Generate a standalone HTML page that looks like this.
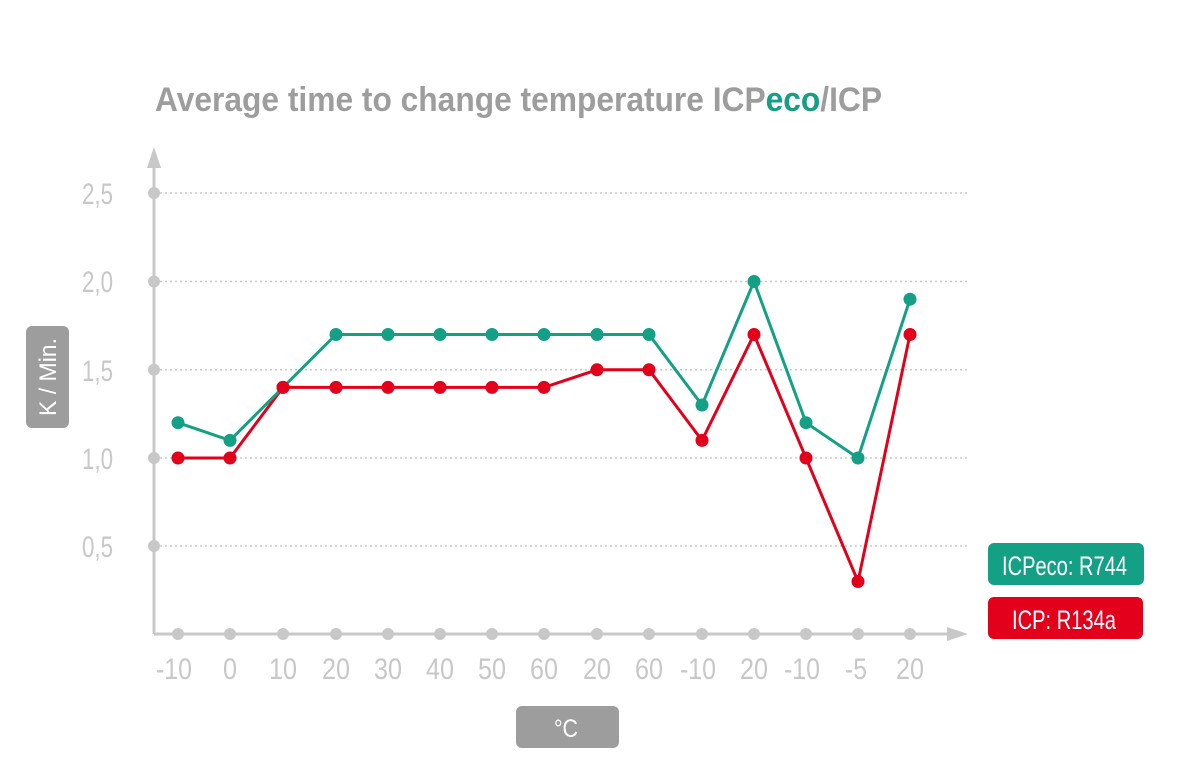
<!DOCTYPE html>
<html><head><meta charset="utf-8"><style>
html,body{margin:0;padding:0;background:#fff;}
svg{display:block;font-family:"Liberation Sans Narrow","Liberation Sans",sans-serif;}
</style></head><body>
<svg width="1200" height="780" viewBox="0 0 1200 780" xmlns="http://www.w3.org/2000/svg">
<text x="155" y="111" font-size="34" font-weight="bold" fill="#9d9d9d" textLength="727" lengthAdjust="spacingAndGlyphs">Average time to change temperature ICP<tspan fill="#13a085">eco</tspan>/ICP</text>
<g stroke="#c8c8c8" stroke-width="1.5" stroke-dasharray="2 3">
<line x1="160" y1="193" x2="968" y2="193"/><line x1="160" y1="281.5" x2="968" y2="281.5"/><line x1="160" y1="369.8" x2="968" y2="369.8"/><line x1="160" y1="458" x2="968" y2="458"/><line x1="160" y1="546" x2="968" y2="546"/>
</g>
<g stroke="#c8c8c8" stroke-width="3"><line x1="154" y1="165" x2="154" y2="634"/><line x1="154" y1="634" x2="950" y2="634"/></g>
<polygon points="154,147 147,168 161,168" fill="#c8c8c8"/>
<polygon points="968,634 947,627 947,641" fill="#c8c8c8"/>
<g fill="#c8c8c8">
<circle cx="154" cy="193" r="6"/><circle cx="154" cy="281.5" r="6"/><circle cx="154" cy="369.8" r="6"/><circle cx="154" cy="458" r="6"/><circle cx="154" cy="546" r="6"/>
<circle cx="178" cy="634" r="6"/><circle cx="230" cy="634" r="6"/><circle cx="283" cy="634" r="6"/><circle cx="336" cy="634" r="6"/><circle cx="388" cy="634" r="6"/><circle cx="440" cy="634" r="6"/><circle cx="492" cy="634" r="6"/><circle cx="544" cy="634" r="6"/><circle cx="597" cy="634" r="6"/><circle cx="649" cy="634" r="6"/><circle cx="702" cy="634" r="6"/><circle cx="754" cy="634" r="6"/><circle cx="806" cy="634" r="6"/><circle cx="858" cy="634" r="6"/><circle cx="910" cy="634" r="6"/>
</g>
<g fill="#c8c8c8" font-size="30" text-anchor="end">
<text x="113" y="204" textLength="31" lengthAdjust="spacingAndGlyphs">2,5</text><text x="113" y="292" textLength="31" lengthAdjust="spacingAndGlyphs">2,0</text><text x="113" y="381" textLength="31" lengthAdjust="spacingAndGlyphs">1,5</text><text x="113" y="469" textLength="31" lengthAdjust="spacingAndGlyphs">1,0</text><text x="113" y="557" textLength="31" lengthAdjust="spacingAndGlyphs">0,5</text>
</g>
<g fill="#c8c8c8" font-size="30" text-anchor="middle" lengthAdjust="spacingAndGlyphs">
<text x="174" y="679" textLength="36" lengthAdjust="spacingAndGlyphs">-10</text><text x="230" y="679" textLength="14" lengthAdjust="spacingAndGlyphs">0</text><text x="283" y="679" textLength="28" lengthAdjust="spacingAndGlyphs">10</text><text x="336" y="679" textLength="28" lengthAdjust="spacingAndGlyphs">20</text><text x="388" y="679" textLength="28" lengthAdjust="spacingAndGlyphs">30</text><text x="440" y="679" textLength="28" lengthAdjust="spacingAndGlyphs">40</text><text x="492" y="679" textLength="28" lengthAdjust="spacingAndGlyphs">50</text><text x="544" y="679" textLength="28" lengthAdjust="spacingAndGlyphs">60</text><text x="597" y="679" textLength="28" lengthAdjust="spacingAndGlyphs">20</text><text x="649" y="679" textLength="28" lengthAdjust="spacingAndGlyphs">60</text><text x="698" y="679" textLength="36" lengthAdjust="spacingAndGlyphs">-10</text><text x="754" y="679" textLength="28" lengthAdjust="spacingAndGlyphs">20</text><text x="802" y="679" textLength="36" lengthAdjust="spacingAndGlyphs">-10</text><text x="856" y="679" textLength="22" lengthAdjust="spacingAndGlyphs">-5</text><text x="910" y="679" textLength="28" lengthAdjust="spacingAndGlyphs">20</text>
</g>
<polyline fill="none" stroke="#e2001a" stroke-width="3" points="178,458 230,458 283,387.4 336,387.4 388,387.4 440,387.4 492,387.4 544,387.4 597,369.8 649,369.8 702,440.4 754,334.5 806,458 858,581.5 910,334.5"/>
<g fill="#e2001a"><circle cx="178" cy="458" r="6.5"/><circle cx="230" cy="458" r="6.5"/><circle cx="283" cy="387.4" r="6.5"/><circle cx="336" cy="387.4" r="6.5"/><circle cx="388" cy="387.4" r="6.5"/><circle cx="440" cy="387.4" r="6.5"/><circle cx="492" cy="387.4" r="6.5"/><circle cx="544" cy="387.4" r="6.5"/><circle cx="597" cy="369.8" r="6.5"/><circle cx="649" cy="369.8" r="6.5"/><circle cx="702" cy="440.4" r="6.5"/><circle cx="754" cy="334.5" r="6.5"/><circle cx="806" cy="458" r="6.5"/><circle cx="858" cy="581.5" r="6.5"/><circle cx="910" cy="334.5" r="6.5"/></g>
<polyline fill="none" stroke="#13a085" stroke-width="3" points="178,422.7 230,440.4 283,387.4 336,334.5 388,334.5 440,334.5 492,334.5 544,334.5 597,334.5 649,334.5 702,405 754,281.5 806,422.7 858,458 910,299.2"/>
<g fill="#13a085"><circle cx="178" cy="422.7" r="6.5"/><circle cx="230" cy="440.4" r="6.5"/><circle cx="336" cy="334.5" r="6.5"/><circle cx="388" cy="334.5" r="6.5"/><circle cx="440" cy="334.5" r="6.5"/><circle cx="492" cy="334.5" r="6.5"/><circle cx="544" cy="334.5" r="6.5"/><circle cx="597" cy="334.5" r="6.5"/><circle cx="649" cy="334.5" r="6.5"/><circle cx="702" cy="405" r="6.5"/><circle cx="754" cy="281.5" r="6.5"/><circle cx="806" cy="422.7" r="6.5"/><circle cx="858" cy="458" r="6.5"/><circle cx="910" cy="299.2" r="6.5"/></g>
<circle cx="283" cy="387.4" r="6.5" fill="#e2001a"/>
<rect x="988" y="543" width="156" height="42" rx="6" fill="#13a085"/>
<text x="1002" y="575" font-size="27" fill="#fff" textLength="125" lengthAdjust="spacingAndGlyphs">ICPeco: R744</text>
<rect x="988" y="597" width="155" height="42" rx="6" fill="#e2001a"/>
<text x="1012" y="629" font-size="27" fill="#fff" textLength="104" lengthAdjust="spacingAndGlyphs">ICP: R134a</text>
<rect x="26" y="326" width="43" height="102" rx="6" fill="#9d9d9d"/>
<text x="0" y="0" font-size="24" fill="#fff" text-anchor="middle" textLength="78" lengthAdjust="spacingAndGlyphs" transform="translate(56,377) rotate(-90)">K / Min.</text>
<rect x="516" y="706" width="103" height="42" rx="6" fill="#9d9d9d"/>
<text x="566" y="737" font-size="25" fill="#fff" text-anchor="middle" textLength="24" lengthAdjust="spacingAndGlyphs">°C</text>
</svg>
</body></html>
